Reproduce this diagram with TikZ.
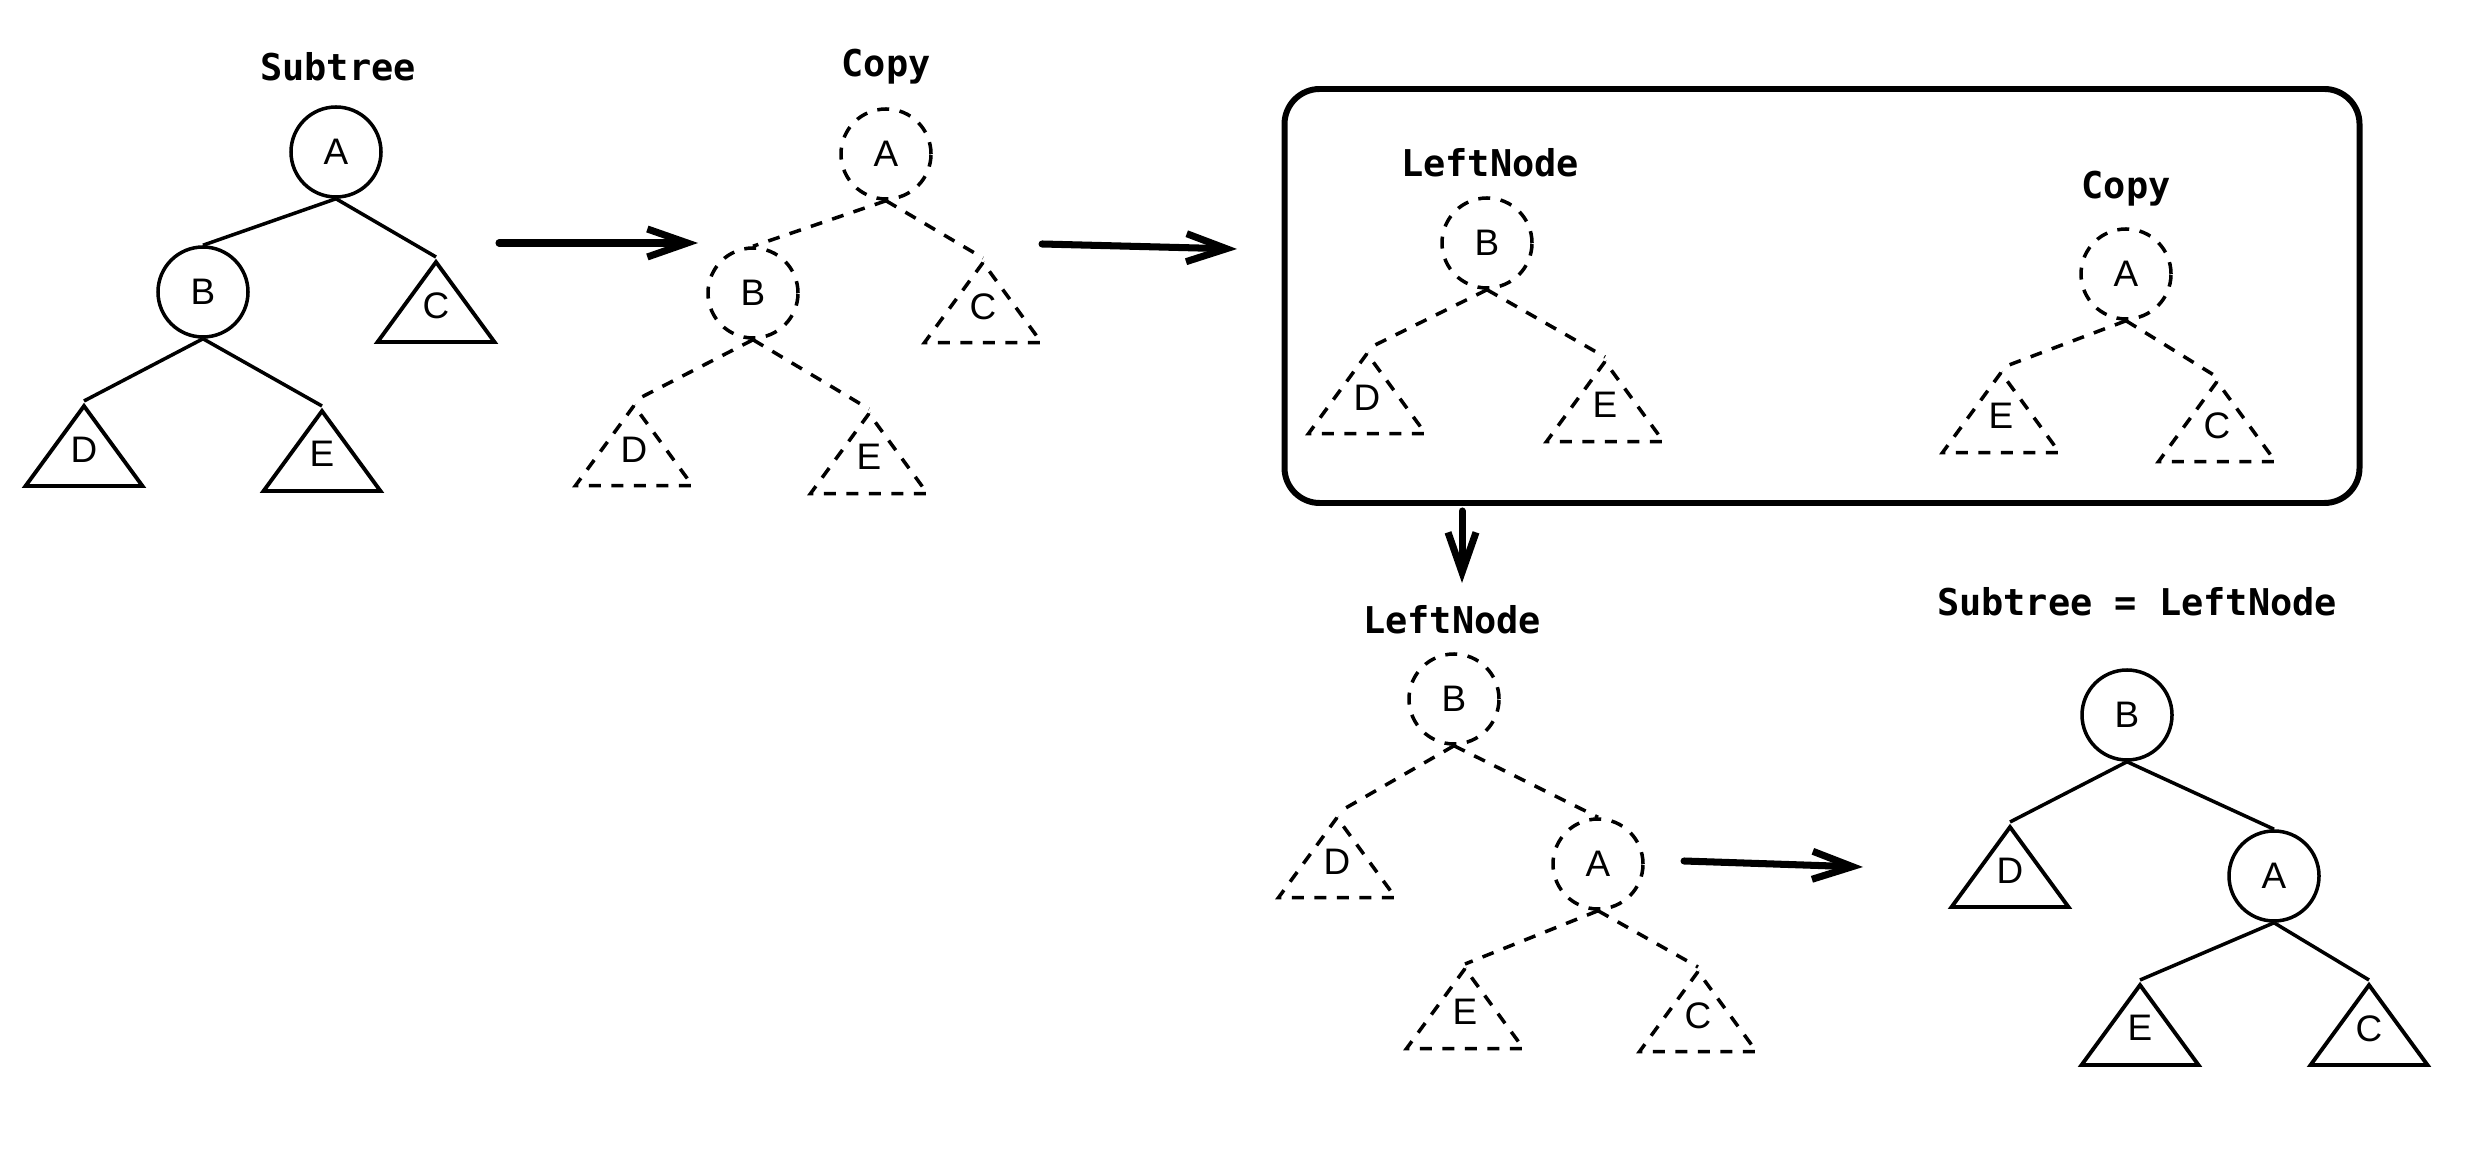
\documentclass[tikz,border=0pt]{standalone}
\usepackage{fontspec}
\setmainfont{Liberation Sans}
\newfontfamily\codefont{DejaVu Sans Mono}
\usetikzlibrary{
  arrows.meta,
  shapes.geometric,
  positioning
}
\tikzset{
  % Tree node (circle)
  treenode/.style={
    circle, draw, line width=1pt,
    minimum size=0.9cm, inner sep=0pt,
    font=\fontsize{10.5}{12}\selectfont
  },
  % Copied node (dashed circle)
  dashnode/.style={
    treenode, dash pattern=on 3.4pt off 3pt
  },
  % Subtree triangle
  subtri/.style={
    isosceles triangle, isosceles triangle stretches,
    shape border rotate=90, draw, line width=1.1pt,
    minimum width=1.17cm, minimum height=0.8cm, inner sep=0pt,
    text depth=0.16cm,
    anchor=apex, font=\fontsize{10.5}{12}\selectfont
  },
  % Copied subtree triangle
  dashtri/.style={
    subtri, line width=1pt, dash pattern=on 3.4pt off 3pt
  },
  % Title over a tree
  treelabel/.style={
    font=\codefont\bfseries\fontsize{10.5}{12}\selectfont
  },
  % Tree links
  treelink/.style={line width=1pt},
  dashlink/.style={treelink, dash pattern=on 3.4pt off 3pt},
  % Step arrow
  myarrow/.style={
    -{Straight Barb[length=4mm, width=2.8mm]}, line width=2pt, line cap=round
  },
  % Frame round the split
  panelbox/.style={
    draw, line width=1.7pt, rounded corners=10pt,
    minimum width=10.75cm, minimum height=4.14cm
  },
}

\begin{document}
\begin{tikzpicture}
\useasboundingbox (0,0) rectangle (24.86,-11.5);

% ── Subtree ───────────────────────────────────────────────────────────────────
\node[treelabel] (lbl1) at (3.38,-0.67) {Subtree};
\node[treenode] (a1) at (3.36,-1.52) {A};
\node[treenode] (b1) at (2.03,-2.92) {B};
\node[subtri] (c1) at (4.36,-2.57) {C};
\node[subtri] (d1) at (0.84,-4.01) {D};
\node[subtri] (e1) at (3.22,-4.06) {E};
\draw[treelink] (a1.south) -- (b1.north);
\draw[treelink] (a1.south) -- (c1.apex);
\draw[treelink] (b1.south) -- (d1.apex);
\draw[treelink] (b1.south) -- (e1.apex);

\coordinate (s1) at (4.99,-2.43);
\coordinate (t1) at (6.98,-2.43);
\draw[myarrow] (s1) -- (t1);

% ── Copy ──────────────────────────────────────────────────────────────────────
\node[treelabel] (lbl2) at (8.86,-0.67) {Copy};
\node[dashnode] (a2) at (8.86,-1.54) {A};
\node[dashnode] (b2) at (7.53,-2.93) {B};
\node[dashtri] (c2) at (9.83,-2.58) {C};
\node[dashtri] (d2) at (6.34,-4.01) {D};
\node[dashtri] (e2) at (8.69,-4.09) {E};
\draw[dashlink] (a2.south) -- (b2.north);
\draw[dashlink] (a2.south) -- (c2.apex);
\draw[dashlink] (b2.south) -- (d2.apex);
\draw[dashlink] (b2.south) -- (e2.apex);

\coordinate (s2) at (10.42,-2.44);
\coordinate (t2) at (12.37,-2.49);
\draw[myarrow] (s2) -- (t2);

% ── Split into LeftNode and Copy ──────────────────────────────────────────────
\node[panelbox] (box) at (18.22,-2.96) {};

\node[treelabel] (lbl3) at (14.90,-1.63) {LeftNode};
\node[dashnode] (b3) at (14.87,-2.43) {B};
\node[dashtri] (d3) at (13.67,-3.49) {D};
\node[dashtri] (e3) at (16.05,-3.57) {E};
\draw[dashlink] (b3.south) -- (d3.apex);
\draw[dashlink] (b3.south) -- (e3.apex);

\node[treelabel] (lbl3b) at (21.26,-1.89) {Copy};
\node[dashnode] (a3) at (21.26,-2.74) {A};
\node[dashtri] (e3b) at (20.01,-3.68) {E};
\node[dashtri] (c3) at (22.17,-3.77) {C};
\draw[dashlink] (a3.south) -- (e3b.apex);
\draw[dashlink] (a3.south) -- (c3.apex);

\coordinate (s3) at (14.62,-5.11);
\coordinate (t3) at (14.62,-5.83);
\draw[myarrow] (s3) -- (t3);

% ── LeftNode with Copy as right child ─────────────────────────────────────────
\node[treelabel] (lbl4) at (14.52,-6.20) {LeftNode};
\node[dashnode] (b4) at (14.54,-6.99) {B};
\node[dashtri] (d4) at (13.37,-8.13) {D};
\node[dashnode] (a4) at (15.98,-8.64) {A};
\node[dashtri] (e4) at (14.65,-9.64) {E};
\node[dashtri] (c4) at (16.98,-9.67) {C};
\draw[dashlink] (b4.south) -- (d4.apex);
\draw[dashlink] (b4.south) -- (a4.north);
\draw[dashlink] (a4.south) -- (e4.apex);
\draw[dashlink] (a4.south) -- (c4.apex);

\coordinate (s4) at (16.84,-8.61);
\coordinate (t4) at (18.63,-8.67);
\draw[myarrow] (s4) -- (t4);

% ── Result ────────────────────────────────────────────────────────────────────
\node[treelabel] (lbl5) at (21.37,-6.02) {Subtree = LeftNode};
\node[treenode] (b5) at (21.27,-7.15) {B};
\node[subtri] (d5) at (20.10,-8.22) {D};
\node[treenode] (a5) at (22.74,-8.76) {A};
\node[subtri] (e5) at (21.40,-9.80) {E};
\node[subtri] (c5) at (23.69,-9.80) {C};
\draw[treelink] (b5.south) -- (d5.apex);
\draw[treelink] (b5.south) -- (a5.north);
\draw[treelink] (a5.south) -- (e5.apex);
\draw[treelink] (a5.south) -- (c5.apex);

\end{tikzpicture}
\end{document}
